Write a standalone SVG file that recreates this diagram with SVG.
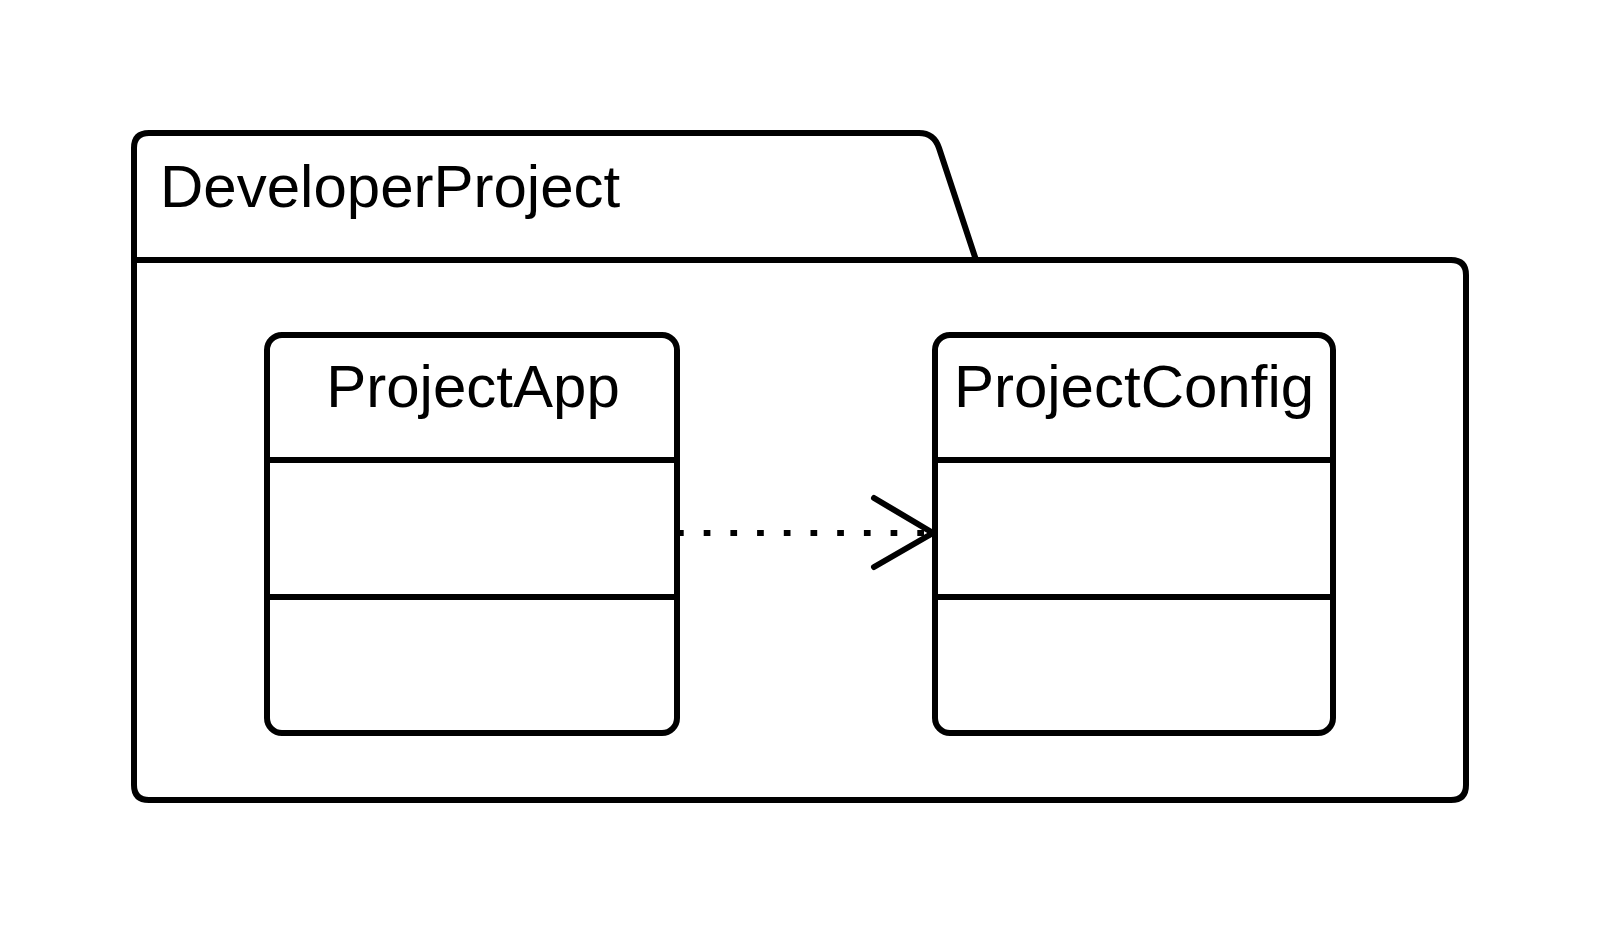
<svg xmlns="http://www.w3.org/2000/svg" width="1600" height="933" viewBox="0 0 1600 933">
<style>
.ln{fill:none;stroke:#000;stroke-width:6;stroke-linejoin:round;stroke-linecap:round}
.box{fill:#fff;stroke:#000;stroke-width:6}
.t{font-family:"Liberation Sans",Arial,sans-serif;font-size:60px;fill:#000}
</style>
<rect width="1600" height="933" fill="#fff"/>
<g id="DeveloperProject">
<path class="ln" d="M134,260 V148 Q134,133 149,133 H919 Q934,133 939,148 L976,260"/>
<path class="ln" d="M134,260 H1451 Q1466,260 1466,275 V785 Q1466,800 1451,800 H149 Q134,800 134,785 Z"/>
<text class="t" x="160" y="207">DeveloperProject</text>
</g>
<g id="ProjectApp">
<rect class="box" x="267" y="335" width="410" height="398" rx="15"/>
<line class="ln" x1="267" y1="460" x2="677" y2="460" stroke-linecap="butt"/>
<line class="ln" x1="267" y1="597" x2="677" y2="597" stroke-linecap="butt"/>
<text class="t" x="473" y="407" text-anchor="middle">ProjectApp</text>
</g>
<g id="ProjectConfig">
<rect class="box" x="935" y="335" width="398" height="398" rx="15"/>
<line class="ln" x1="935" y1="460" x2="1333" y2="460" stroke-linecap="butt"/>
<line class="ln" x1="935" y1="597" x2="1333" y2="597" stroke-linecap="butt"/>
<text class="t" x="1134" y="407" text-anchor="middle">ProjectConfig</text>
</g>
<g id="connectors">
<line x1="677" y1="533" x2="933" y2="533" stroke="#000" stroke-width="6" stroke-dasharray="6.7 20"/>
<path class="ln" d="M874,498 L933,533 L874,567" stroke-linecap="butt" stroke-linejoin="miter"/>
</g>
</svg>
